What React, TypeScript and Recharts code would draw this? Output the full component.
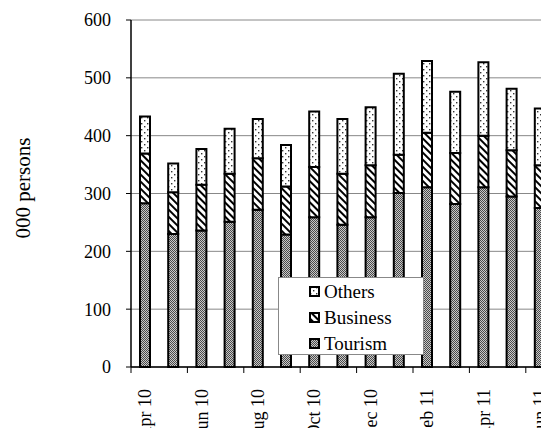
import { BarChart, Bar, XAxis, YAxis, CartesianGrid, Label } from 'recharts';

const months = ['Apr 10', 'May 10', 'Jun 10', 'Jul 10', 'Aug 10', 'Sep 10', 'Oct 10', 'Nov 10', 'Dec 10', 'Jan 11', 'Feb 11', 'Mar 11', 'Apr 11', 'May 11', 'Jun 11'];
const tourism = [283, 230, 236, 251, 272, 229, 259, 246, 259, 301, 311, 282, 311, 295, 275];
const business = [86, 72, 79, 83, 89, 83, 87, 88, 90, 66, 94, 88, 89, 80, 74];
const others = [64, 50, 62, 78, 68, 72, 96, 95, 100, 140, 124, 106, 127, 106, 98];
const yTicks = [0, 100, 200, 300, 400, 500, 600];

// legend order is top of stack first
const legendItems = [
    { name: 'Others', fill: 'url(#patOthers)' },
    { name: 'Business', fill: 'url(#patBusiness)' },
    { name: 'Tourism', fill: 'url(#patTourism)' },
];

const data = months.map((m, i) => ({
    month: m,
    tourism: tourism[i],
    business: business[i],
    others: others[i],
}));

const FONT = "'Liberation Serif', 'Times New Roman', serif";
const CHART_W = 546;
const Y_W = 123;
const BAND = (CHART_W - Y_W) / months.length;

const XTick = (props: any) => {
    const { x, y, payload } = props;
    const tx = x + 6;
    const ty = y + 22;
    return (
        <g>
            <line x1={x - BAND / 2} x2={x - BAND / 2} y1={y} y2={y + 6} stroke="#000" strokeWidth={1} />
            <text
                x={tx}
                y={ty}
                transform={`rotate(-90, ${tx}, ${ty})`}
                textAnchor="end"
                fontSize={18}
                fontFamily={FONT}
                fill="#000"
            >
                {payload.value}
            </text>
        </g>
    );
};

const Swatch = ({ fill }: { fill: string }) => (
    <svg width={11} height={11} style={{ display: 'block' }}>
        <rect x={1} y={1} width={9} height={9} fill={fill} stroke="#000" strokeWidth={2} />
    </svg>
);

const App = () => {
    return (
        <div style={{ width: 541, height: 420, overflow: 'hidden', position: 'relative' }}>
            <BarChart
                width={CHART_W}
                height={440}
                data={data}
                margin={{ top: 12, right: 0, bottom: 1, left: 0 }}
            >
                <defs>
                    <pattern id="patTourism" patternUnits="userSpaceOnUse" width={2} height={2}>
                        <rect x={0} y={0} width={2} height={2} fill="#c8c8c8" />
                        <rect x={0} y={0} width={1} height={1} fill="#4a4a4a" />
                        <rect x={1} y={1} width={1} height={1} fill="#4a4a4a" />
                    </pattern>
                    <pattern id="patBusiness" patternUnits="userSpaceOnUse" width={5} height={5} patternTransform="rotate(-45)">
                        <rect x={0} y={0} width={5} height={5} fill="#fff" />
                        <rect x={0} y={0} width={2} height={5} fill="#000" />
                    </pattern>
                    <pattern id="patOthers" patternUnits="userSpaceOnUse" width={6} height={6}>
                        <rect x={0} y={0} width={6} height={6} fill="#fff" />
                        <rect x={1} y={1} width={1.4} height={1.4} fill="#333" />
                        <rect x={4} y={4} width={1.4} height={1.4} fill="#333" />
                    </pattern>
                </defs>
                <CartesianGrid vertical={false} stroke="#888" />
                <XAxis
                    dataKey="month"
                    interval={1}
                    tick={XTick}
                    tickLine={false}
                    tickSize={0}
                    tickMargin={0}
                    height={80}
                    axisLine={{ stroke: '#000', strokeWidth: 1.5 }}
                />
                <YAxis
                    domain={[0, 600]}
                    ticks={yTicks}
                    width={Y_W}
                    tickSize={5}
                    tickMargin={15}
                    tick={{ fill: '#000', fontSize: 18, fontFamily: FONT }}
                    axisLine={{ stroke: '#000', strokeWidth: 1.5 }}
                    tickLine={{ stroke: '#000' }}
                >
                    <Label
                        content={() => (
                            <text
                                x={22}
                                y={180}
                                transform="rotate(-90, 22, 180)"
                                textAnchor="middle"
                                fontSize={21}
                                fontFamily={FONT}
                                fill="#000"
                            >
                                000 persons
                            </text>
                        )}
                    />
                </YAxis>
                <Bar dataKey="tourism" stackId="a" barSize={10} fill="url(#patTourism)" stroke="#000" strokeWidth={2} isAnimationActive={false} />
                <Bar dataKey="business" stackId="a" barSize={10} fill="url(#patBusiness)" stroke="#000" strokeWidth={2} isAnimationActive={false} />
                <Bar dataKey="others" stackId="a" barSize={10} fill="url(#patOthers)" stroke="#000" strokeWidth={2} isAnimationActive={false} />
            </BarChart>
            <div
                style={{
                    position: 'absolute',
                    left: 270,
                    top: 269,
                    width: 146,
                    height: 78,
                    boxSizing: 'border-box',
                    border: '1px solid #888',
                    background: '#fff',
                    fontFamily: FONT,
                    fontSize: 19,
                    color: '#000',
                }}
            >
                {legendItems.map((item) => (
                    <div key={item.name} style={{ display: 'flex', alignItems: 'center', height: 26, paddingLeft: 30 }}>
                        <Swatch fill={item.fill} />
                        <span style={{ marginLeft: 4, lineHeight: '19px' }}>{item.name}</span>
                    </div>
                ))}
            </div>
        </div>
    );
};

export default App;
